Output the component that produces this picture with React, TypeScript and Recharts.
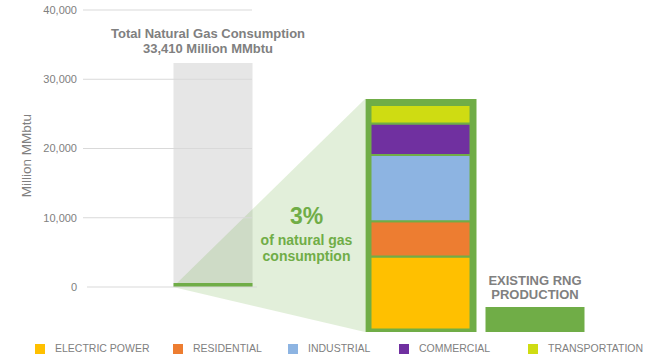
import React from 'react';
import { ComposedChart, Bar, Area, XAxis, YAxis, ReferenceLine, LabelList, Legend } from 'recharts';

// sectors that make up the 3% slice (Million MMbtu)
const sectors = ['ELECTRIC POWER', 'RESIDENTIAL', 'INDUSTRIAL', 'COMMERCIAL', 'TRANSPORTATION'];
const sectorKeys = ['electric', 'residential', 'industrial', 'commercial', 'transportation'];
const sectorColors = ['#ffc000', '#ed7d31', '#8db4e2', '#7030a0', '#cfdc12'];
const sectorValues = [325, 158, 296, 140, 83];

const totalLabel = 33410; // printed in the title
const totalBar = 32350; // height of the grey bar as drawn
const shareBar = 580; // small green slice at the base
const existingRng = 100;

const yTicks = [0, 10000, 20000, 30000, 40000];

// layout
const W = 646;
const H = 356;
const AXIS_W = 83;
const X_DOMAIN = [0, W - AXIS_W];
const MAIN_DOMAIN = [-6931, 40000];
const DETAIL_DOMAIN = [-25, 1426];
const FRAME_PAD_BOTTOM = 12;
const FRAME_PAD_TOP = 27;
const TOTAL = { pos: 129.5, size: 79 };
const DETAIL = { pos: 337.5, size: 111, inner: 100 };
const RNG = { pos: 451.5, size: 99 };
const LEGEND_X = [35, 173, 288, 399, 528];

const GREEN = '#70ad47';
const GREY_TEXT = '#808080';

const detailSum = sectorValues.reduce((a, b) => a + b, 0);
const frameRange = [-FRAME_PAD_BOTTOM, detailSum + FRAME_PAD_TOP];

const detailRow: any = { pos: DETAIL.pos, frame: frameRange };
sectorKeys.forEach((k, i) => { detailRow[k] = sectorValues[i]; });

const chartData = [
    { pos: TOTAL.pos, consumption: totalBar, share: shareBar },
    detailRow,
    { pos: RNG.pos, existing: [-FRAME_PAD_BOTTOM, existingRng] },
];

// detail-axis value -> main-axis value (both axes share the plot height)
const toMain = (v: number) =>
    MAIN_DOMAIN[0] + ((v - DETAIL_DOMAIN[0]) / (DETAIL_DOMAIN[1] - DETAIL_DOMAIN[0])) * (MAIN_DOMAIN[1] - MAIN_DOMAIN[0]);

const lensData = [
    { pos: TOTAL.pos - TOTAL.size / 2, lens: [0, 0] },
    { pos: DETAIL.pos - DETAIL.size / 2, lens: [toMain(frameRange[0]), toMain(frameRange[1])] },
];

const fmt = (v: number) => v.toLocaleString('en-US');

function rectOf(props: any) {
    const vb = props.viewBox ?? props;
    const x = vb.x ?? props.x;
    const y = vb.y ?? props.y;
    const width = vb.width ?? props.width;
    const height = vb.height ?? props.height;
    if (![x, y, width, height].every((n) => Number.isFinite(n)) || height === 0) return null;
    return { x, y, width, height };
}

const TitleLabel = (props: any) => {
    const r = rectOf(props);
    if (!r) return null;
    const cx = r.x + r.width / 2 - 5;
    return (
        <g fill={GREY_TEXT} fontWeight="bold" fontSize={13} textAnchor="middle">
            <text x={cx} y={r.y - 24.5}>Total Natural Gas Consumption</text>
            <text x={cx} y={r.y - 9.7}>{fmt(totalLabel)} Million MMbtu</text>
        </g>
    );
};

const ShareLabel = (props: any) => {
    const r = rectOf(props);
    if (!r) return null;
    const cx = r.x - 59;
    return (
        <g fill={GREEN} fontWeight="bold" textAnchor="middle">
            <text x={cx} y={r.y + 125.3} fontSize={23}>3%</text>
            <text x={cx} y={r.y + 146} fontSize={14}>of natural gas</text>
            <text x={cx} y={r.y + 162} fontSize={14}>consumption</text>
        </g>
    );
};

const RngLabel = (props: any) => {
    const r = rectOf(props);
    if (!r) return null;
    const cx = r.x + r.width / 2;
    return (
        <g fill={GREY_TEXT} fontWeight="bold" fontSize={13} textAnchor="middle">
            <text x={cx} y={r.y - 22.5}>EXISTING RNG</text>
            <text x={cx} y={r.y - 8.5}>PRODUCTION</text>
        </g>
    );
};

const AxisTitle = (props: any) => {
    const vb = props.viewBox ?? { x: 0, y: 10 };
    const x = vb.x + 31;
    const y = vb.y + 145.5;
    return (
        <text x={x} y={y} transform={`rotate(-90 ${x} ${y})`} textAnchor="middle" fill={GREY_TEXT} fontSize={13.5}>
            Million MMbtu
        </text>
    );
};

const LegendRow = () => (
    <div style={{ position: 'relative', width: W, height: 21 }}>
        {sectors.map((name, i) => (
            <div key={name} style={{ position: 'absolute', left: LEGEND_X[i], top: 0, height: 21 }}>
                <span style={{ position: 'absolute', left: 0, top: 9, width: 10, height: 10, background: sectorColors[i] }} />
                <span style={{ position: 'absolute', left: 20, top: 6, fontSize: 10.5, lineHeight: '14px', color: GREY_TEXT, whiteSpace: 'nowrap' }}>
                    {name}
                </span>
            </div>
        ))}
    </div>
);

export default function App() {
    const gridEnd = TOTAL.pos + TOTAL.size / 2;
    return (
        <div style={{ position: 'absolute', left: 0, top: 0, width: W, height: H, background: '#fff', fontFamily: '"Liberation Sans", Arial, sans-serif' }}>
            <ComposedChart width={W} height={H} data={chartData} margin={{ top: 10, right: 0, bottom: 0, left: 0 }}>
                {['total', 'share', 'lens', 'frame', 'detail', 'rng'].map((id) => (
                    <XAxis key={id} xAxisId={id} type="number" dataKey="pos" domain={X_DOMAIN} ticks={X_DOMAIN} hide />
                ))}
                <YAxis
                    yAxisId="main"
                    domain={MAIN_DOMAIN}
                    ticks={yTicks}
                    interval={0}
                    width={AXIS_W}
                    axisLine={false}
                    tickLine={false}
                    tickSize={4}
                    tickMargin={2}
                    tickFormatter={fmt}
                    tick={{ fill: GREY_TEXT, fontSize: 11 }}
                    label={{ content: AxisTitle }}
                />
                <YAxis yAxisId="detail" orientation="right" domain={DETAIL_DOMAIN} hide />

                {yTicks.map((t) => (
                    <ReferenceLine
                        key={t}
                        xAxisId="total"
                        yAxisId="main"
                        segment={[{ x: t === 0 ? 4 : 0, y: t }, { x: t === 0 ? gridEnd + 5 : gridEnd, y: t }]}
                        stroke="#d9d9d9"
                        strokeWidth={1}
                    />
                ))}

                <Bar xAxisId="total" yAxisId="main" dataKey="consumption" fill="#e6e6e6" barSize={TOTAL.size} legendType="none" isAnimationActive={false}>
                    <LabelList dataKey="consumption" content={TitleLabel} />
                </Bar>
                <Area
                    data={lensData}
                    xAxisId="lens"
                    yAxisId="main"
                    dataKey="lens"
                    type="linear"
                    stroke="none"
                    fill={GREEN}
                    fillOpacity={0.2}
                    dot={false}
                    activeDot={false}
                    legendType="none"
                    isAnimationActive={false}
                    zIndex={350}
                />
                <Bar xAxisId="share" yAxisId="main" dataKey="share" fill={GREEN} barSize={TOTAL.size} legendType="none" isAnimationActive={false} zIndex={360} />

                <Bar xAxisId="frame" yAxisId="detail" dataKey="frame" fill={GREEN} barSize={DETAIL.size} legendType="none" isAnimationActive={false}>
                    <LabelList dataKey="frame" content={ShareLabel} />
                </Bar>
                {sectorKeys.map((k, i) => (
                    <Bar
                        key={k}
                        name={sectors[i]}
                        xAxisId="detail"
                        yAxisId="detail"
                        dataKey={k}
                        stackId="mix"
                        fill={sectorColors[i]}
                        stroke={GREEN}
                        strokeWidth={2}
                        barSize={DETAIL.inner}
                        isAnimationActive={false}
                    />
                ))}
                <Bar xAxisId="rng" yAxisId="detail" dataKey="existing" fill={GREEN} barSize={RNG.size} legendType="none" isAnimationActive={false}>
                    <LabelList dataKey="existing" content={RngLabel} />
                </Bar>

                <Legend verticalAlign="bottom" align="left" height={21} wrapperStyle={{ left: 0, width: W, height: 21 }} content={() => <LegendRow />} />
            </ComposedChart>
        </div>
    );
}
